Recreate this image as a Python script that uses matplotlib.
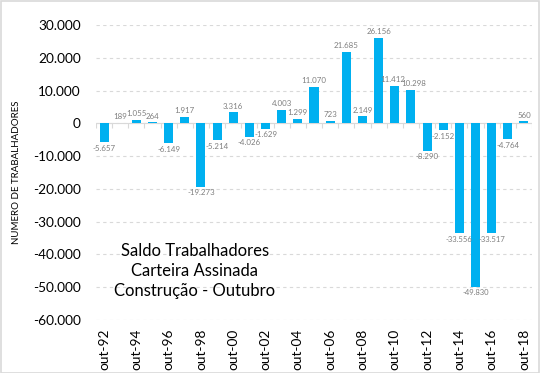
import matplotlib
matplotlib.use("Agg")
import matplotlib.pyplot as plt
from matplotlib.ticker import FuncFormatter
from matplotlib.patches import Rectangle

years = ["92", "93", "94", "95", "96", "97", "98", "99", "00", "01", "02", "03", "04",
         "05", "06", "07", "08", "09", "10", "11", "12", "13", "14", "15", "16", "17", "18"]
categories = ["out-" + y for y in years]
values = [-5657, 189, 1055, 264, -6149, 1917, -19273, -5214, 3316, -4026, -1629, 4003, 1299,
          11070, 723, 21685, 2149, 26156, 11412, 10298, -8290, -2152, -33556, -49830, -33517,
          -4764, 560]
yticks = [30000, 20000, 10000, 0, -10000, -20000, -30000, -40000, -50000, -60000]
title_lines = ["Saldo Trabalhadores", "Carteira Assinada", "Construção - Outubro"]
ylabel = "NUMERO DE TRABALHADORES"

plt.rcParams['font.family'] = ['Lato', 'DejaVu Sans']

def fmt(v):
    s = f"{abs(int(v)):,}".replace(",", ".")
    return ("-" if v < 0 else "") + s

fig = plt.figure(figsize=(5.4, 3.73), dpi=100)
ax = fig.add_axes([96/540, 1-320/373, (532-96)/540, (320-25)/373])

x = list(range(len(values)))
bars = ax.bar(x, values, width=0.56, color="#00B0F0", zorder=3)

ax.set_ylim(-60000, 30000)
ax.set_xlim(-0.5, len(values)-0.5)
ax.set_yticks(yticks)
ax.yaxis.set_major_formatter(FuncFormatter(lambda v, p: fmt(v)))
ax.yaxis.grid(True, color="#d9d9d9", linestyle=(0, (3, 3)), linewidth=0.8, zorder=0)
ax.tick_params(axis='y', length=0, labelsize=9.8, pad=11, labelcolor="#000000")
ax.set_xticks(x[::2])
ax.set_xticklabels(categories[::2], rotation=90, fontsize=9.8)
ax.tick_params(axis='x', length=0, pad=6)
for s in ax.spines.values():
    s.set_visible(False)

# zero line with category separators
ax.axhline(0, color="#d9d9d9", linewidth=0.8, zorder=2)
tick_len = 0.016 * (30000 + 60000)
ax.vlines([i - 0.5 for i in range(len(values)+1)], -tick_len, 0, color="#d9d9d9", linewidth=0.8, zorder=2)

# small horizontal nudges (points) for crowded labels, as in the reference
nudge = {18: -1.5, 19: 1.8}
for xi, v in zip(x, values):
    fs = 5.5 if v < -30000 else 5.7
    dx = nudge.get(xi, 0)
    if v >= 0:
        ax.annotate(fmt(v), (xi, v), xytext=(dx, 2), textcoords="offset points",
                    ha="center", va="bottom", fontsize=fs, color="#7f7f7f", zorder=4)
    else:
        ax.annotate(fmt(v), (xi, v), xytext=(dx, -2), textcoords="offset points",
                    ha="center", va="top", fontsize=fs, color="#7f7f7f", zorder=4)

ax.set_ylabel(ylabel, fontsize=7)
ax.yaxis.set_label_coords(-0.172, 0.5)

ax.text(0.227, 0.166, "\n".join(title_lines), transform=ax.transAxes, ha="center", va="center",
        fontsize=12, linespacing=1.3, color="#000000")

fig.patches.append(Rectangle((0.001, 0.001), 0.997, 0.997, transform=fig.transFigure,
                             fill=False, edgecolor="#d9d9d9", linewidth=1.2))

fig.savefig("out.png", dpi=100)
